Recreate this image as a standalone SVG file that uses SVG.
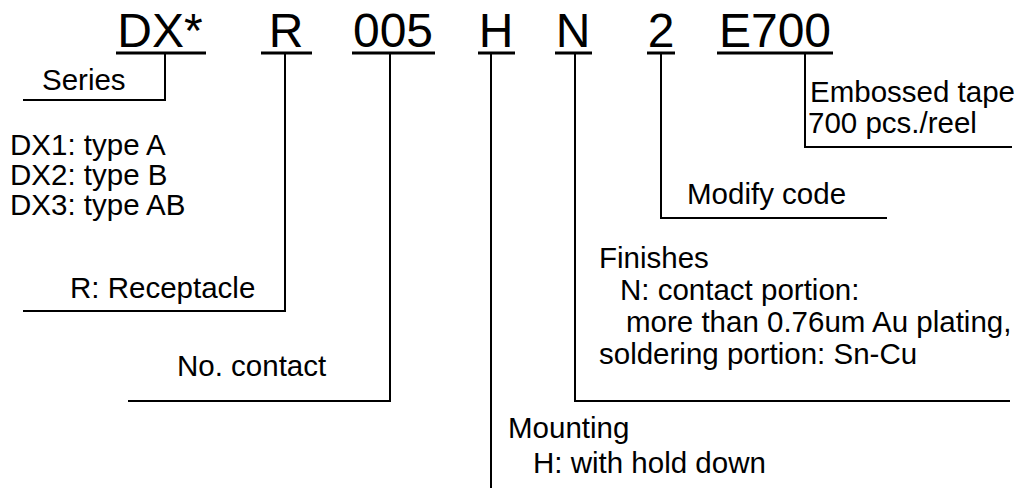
<svg xmlns="http://www.w3.org/2000/svg" width="1017" height="488" viewBox="0 0 1017 488">
<style>
.code{font-family:"Liberation Sans",Arial,sans-serif;font-size:48px;fill:#000;text-anchor:middle}
.lbl{font-family:"Liberation Sans",Arial,sans-serif;font-size:29.5px;fill:#000}
.ul{stroke:#000;stroke-width:3;fill:none}
.ln{stroke:#000;stroke-width:2;fill:none}
</style>
<rect width="1017" height="488" fill="#fff"/>
<g id="code-dx"><text class="code" x="160" y="47">DX*</text><line class="ul" x1="116" y1="53" x2="206" y2="53"/></g>
<g id="code-r"><text class="code" x="286" y="47">R</text><line class="ul" x1="261" y1="53" x2="312" y2="53"/></g>
<g id="code-005"><text class="code" x="393" y="47">005</text><line class="ul" x1="352" y1="53" x2="435" y2="53"/></g>
<g id="code-h"><text class="code" x="496" y="47">H</text><line class="ul" x1="478" y1="53" x2="515" y2="53"/></g>
<g id="code-n"><text class="code" x="573" y="47">N</text><line class="ul" x1="555" y1="53" x2="592" y2="53"/></g>
<g id="code-2"><text class="code" x="661" y="47">2</text><line class="ul" x1="647" y1="53" x2="675" y2="53"/></g>
<g id="code-e700"><text class="code" x="775" y="47">E700</text><line class="ul" x1="717" y1="53" x2="833" y2="53"/></g>
<g id="connectors">
<polyline class="ln" points="165,53 165,100 23,100"/>
<polyline class="ln" points="285,53 285,311 23,311"/>
<polyline class="ln" points="390,53 390,401 128,401"/>
<polyline class="ln" points="491,53 491,488"/>
<polyline class="ln" points="575,53 575,401 1010,401"/>
<polyline class="ln" points="661,53 661,218 887,218"/>
<polyline class="ln" points="805,53 805,147 1012,147"/>
</g>
<g id="series"><text class="lbl" x="42" y="90">Series</text>
<text class="lbl" x="10" y="155">DX1: type A</text>
<text class="lbl" x="10" y="185">DX2: type B</text>
<text class="lbl" x="10" y="215">DX3: type AB</text></g>
<g id="receptacle"><text class="lbl" x="70" y="298">R: Receptacle</text></g>
<g id="contact"><text class="lbl" x="177" y="376">No. contact</text></g>
<g id="mounting"><text class="lbl" x="508" y="438">Mounting</text><text class="lbl" x="533" y="473">H: with hold down</text></g>
<g id="finishes"><text class="lbl" x="599" y="268">Finishes</text>
<text class="lbl" x="620" y="300">N: contact portion:</text>
<text class="lbl" x="626" y="332">more than 0.76um Au plating,</text>
<text class="lbl" x="599" y="364">soldering portion: Sn-Cu</text></g>
<g id="modify"><text class="lbl" x="687" y="204">Modify code</text></g>
<g id="packing"><text class="lbl" x="810" y="102">Embossed tape</text><text class="lbl" x="808" y="133">700 pcs./reel</text></g>
</svg>
